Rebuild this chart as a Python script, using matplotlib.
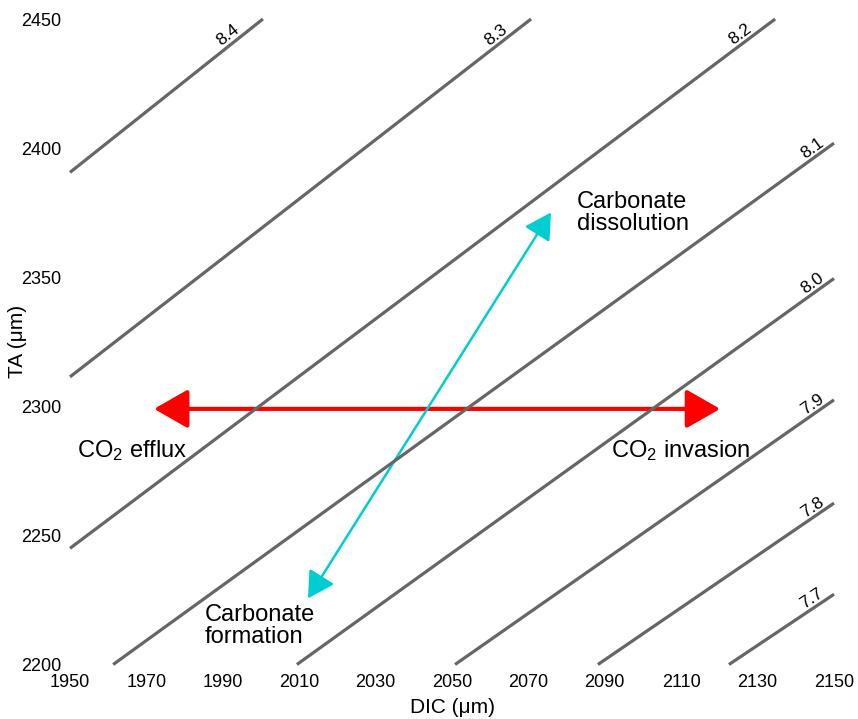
import numpy as np
import matplotlib
matplotlib.use("Agg")
import matplotlib.pyplot as plt
from matplotlib.patches import FancyArrowPatch

plt.rcParams['font.family'] = ['Liberation Sans', 'DejaVu Sans']
plt.rcParams['mathtext.default'] = 'regular'

# pH isopleths in DIC / TA space (start and end points of each line)
ph_labels = ['8.4', '8.3', '8.2', '8.1', '8.0', '7.9', '7.8', '7.7']
dic_start = [1950, 1950, 1950, 1961.3, 2009.4, 2050.8, 2088.2, 2122.5]
ta_start = [2390.6, 2311.4, 2245.0, 2200, 2200, 2200, 2200, 2200]
dic_end = [2000.5, 2070.7, 2134.6, 2150, 2150, 2150, 2150, 2150]
ta_end = [2450, 2450, 2450, 2401.9, 2349.5, 2302.5, 2262.5, 2227.2]

# process arrows
co2_dic = [1972.0, 2120.2]
co2_ta = [2299, 2299]
carb_dic = [2012.3, 2075.9]
carb_ta = [2225.6, 2375.1]

fig = plt.figure(figsize=(8.58, 7.19), dpi=100)
ax = fig.add_axes([70 / 858, 54.5 / 719, 764 / 858, 645.5 / 719])
ax.set_xlim(1950, 2150)
ax.set_ylim(2200, 2450)

for s in ax.spines.values():
    s.set_visible(False)
ax.set_xticks(np.arange(1950, 2151, 20))
ax.set_yticks(np.arange(2200, 2451, 50))
ax.tick_params(axis='both', length=0, labelsize=13)
ax.tick_params(axis='x', pad=7)
ax.tick_params(axis='y', pad=6)

ax.set_xlabel('DIC (μm)', fontsize=15)
ax.set_ylabel('TA (μm)', fontsize=15)
ax.xaxis.set_label_coords(0.5, -0.052)
ax.yaxis.set_label_coords(-0.056, 0.5)

fig.canvas.draw()
for lab, x0, y0, x1, y1 in zip(ph_labels, dic_start, ta_start, dic_end, ta_end):
    ax.plot([x0, x1], [y0, y1], color='#666666', lw=2.3,
            solid_capstyle='butt', clip_on=False)
    p0 = ax.transData.transform((x0, y0))
    p1 = ax.transData.transform((x1, y1))
    ang = np.degrees(np.arctan2(p1[1] - p0[1], p1[0] - p0[0]))
    back = 18 if y1 >= 2450 else 6
    c, s = np.cos(np.radians(ang)), np.sin(np.radians(ang))
    off = (-back * c - 1.0 * s, -back * s + 1.0 * c)
    ax.annotate(lab, xy=(x1, y1), xytext=off, textcoords='offset points',
                ha='right', va='bottom', rotation=ang, rotation_mode='anchor',
                fontsize=12.5, annotation_clip=False)

red = FancyArrowPatch((co2_dic[0], co2_ta[0]), (co2_dic[1], co2_ta[1]),
                      arrowstyle='<|-|>,head_length=21,head_width=12',
                      mutation_scale=1, shrinkA=0, shrinkB=0,
                      color='#ff0000', lw=3)
ax.add_patch(red)

cyan = FancyArrowPatch((carb_dic[0], carb_ta[0]), (carb_dic[1], carb_ta[1]),
                       arrowstyle='<|-|>,head_length=16,head_width=9',
                       mutation_scale=1, shrinkA=0, shrinkB=0,
                       color='#00ced1', lw=1.8)
ax.add_patch(cyan)

ax.text(1951.8, 2282.7, 'CO$_2$ efflux', fontsize=17, ha='left', va='center')
ax.text(2091.6, 2282.7, 'CO$_2$ invasion', fontsize=17, ha='left', va='center')
ax.text(2082.7, 2375.0, 'Carbonate\ndissolution', fontsize=17,
        ha='left', va='center', linespacing=1.0)
ax.text(1985.3, 2215.1, 'Carbonate\nformation', fontsize=17,
        ha='left', va='center', linespacing=1.0)

fig.savefig('out.png', dpi=100)
